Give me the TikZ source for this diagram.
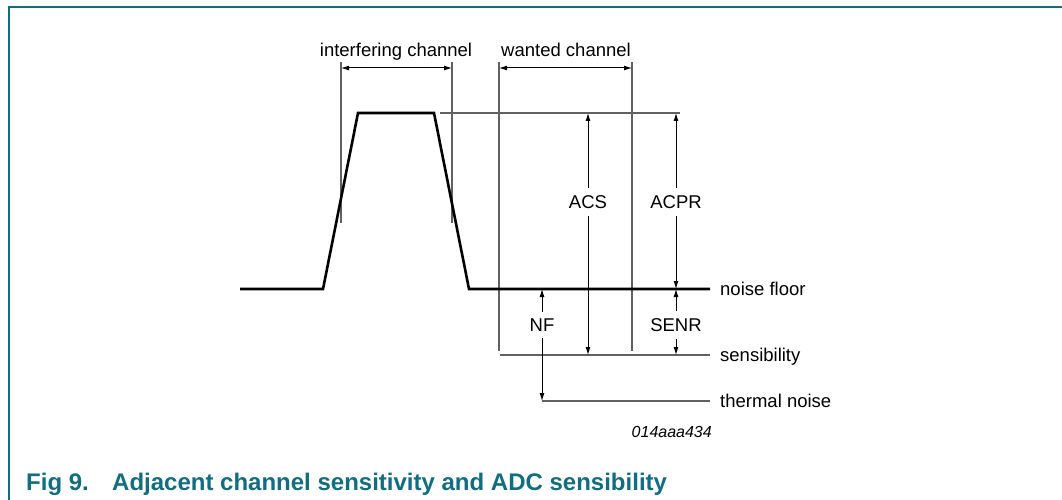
\documentclass[tikz,border=0pt]{standalone}
\usepackage{fontspec}
\setmainfont{Liberation Sans}
\usetikzlibrary{arrows.meta}
\definecolor{nxpteal}{RGB}{16,110,128}
\begin{document}
\begin{tikzpicture}[x=1pt,y=-1pt,
  spectrum/.style={line width=2.6pt, line join=miter},
  guide/.style={line width=1.1pt, draw=black!62},
  dim/.style={line width=1pt, {Latex[length=8pt,width=5pt]}-{Latex[length=8pt,width=5pt]}},
  lbl/.style={font=\fontsize{18.5}{22}\selectfont, inner sep=0pt},
  dimlbl/.style={lbl, fill=white, inner xsep=1pt, inner ysep=7pt},
]
\useasboundingbox (0,0) rectangle (1062,500);
\fill[white] (0,0) rectangle (1062,500);
% frame
\coordinate (fb) at (9,500);
\coordinate (fc) at (9,7);
\coordinate (fr) at (1062,7);
\draw[nxpteal, line width=2pt] (fb) -- (fc) -- (fr);

% spectrum
\coordinate (s0) at (240,289);
\coordinate (s1) at (323,289);
\coordinate (s2) at (358,113);
\coordinate (s3) at (434,113);
\coordinate (s4) at (469,289);
\coordinate (s5) at (710,289);

% guide lines
\coordinate (topL) at (440,113);
\coordinate (topR) at (680,113);
\coordinate (iL1) at (341,62);  \coordinate (iL2) at (341,223);
\coordinate (iR1) at (452,62);  \coordinate (iR2) at (452,223);
\coordinate (wL1) at (499,62);  \coordinate (wL2) at (499,351);
\coordinate (wR1) at (632,62);  \coordinate (wR2) at (632,351);
\coordinate (sensL) at (500,355); \coordinate (sensR) at (710,355);
\coordinate (thL) at (542,401);   \coordinate (thR) at (710,401);

\draw[guide] (topL) -- (topR);
\draw[guide] (iL1) -- (iL2);
\draw[guide] (iR1) -- (iR2);
\draw[guide] (wL1) -- (wL2);
\draw[guide] (wR1) -- (wR2);
\draw[guide] (sensL) -- (sensR);
\draw[guide] (thL) -- (thR);

\draw[spectrum] (s0) -- (s1) -- (s2) -- (s3) -- (s4) -- (s5);

% dimension arrow ends
\coordinate (ia) at (341,68); \coordinate (ib) at (452,68);
\coordinate (wa) at (499,68); \coordinate (wb) at (632,68);
\coordinate (acsT) at (588,113); \coordinate (acsB) at (588,355);
\coordinate (acprT) at (676,113); \coordinate (acprB) at (676,289);
\coordinate (nfT) at (542,289); \coordinate (nfB) at (542,401);
\coordinate (senrT) at (676,289); \coordinate (senrB) at (676,355);

\draw[dim] (ia) -- (ib);
\draw[dim] (wa) -- (wb);
\draw[dim] (acsT) -- (acsB);
\draw[dim] (acprT) -- (acprB);
\draw[dim] (nfT) -- (nfB);
\draw[dim] (senrT) -- (senrB);

% labels on arrows
\node[dimlbl] (acs) at (588,202) {ACS};
\node[dimlbl] (acpr) at (676,202) {ACPR};
\node[dimlbl] (nf) at (542,325) {NF};
\node[dimlbl] (senr) at (676,325) {SENR};

% channel labels
\node[lbl, anchor=base] (intl) at (396,57) {interfering channel};
\node[lbl, anchor=base] (wantl) at (566,57) {wanted channel};

% level labels
\node[lbl, anchor=base west] (nfloor) at (720,295) {noise floor};
\node[lbl, anchor=base west] (sensl) at (720,361) {sensibility};
\node[lbl, anchor=base west] (therml) at (720,407) {thermal noise};

% figure id
\node[anchor=base east, inner sep=0pt, font=\itshape\fontsize{16}{19}\selectfont] (fid) at (712,437) {014aaa434};

% caption
\node[anchor=base west, inner sep=0pt, text=nxpteal, font=\bfseries\fontsize{24}{28}\selectfont] (cap1) at (26,490) {Fig 9.};
\node[anchor=base west, inner sep=0pt, text=nxpteal, font=\bfseries\fontsize{24}{28}\selectfont] (cap2) at (112,490) {Adjacent channel sensitivity and ADC sensibility};
\end{tikzpicture}
\end{document}
